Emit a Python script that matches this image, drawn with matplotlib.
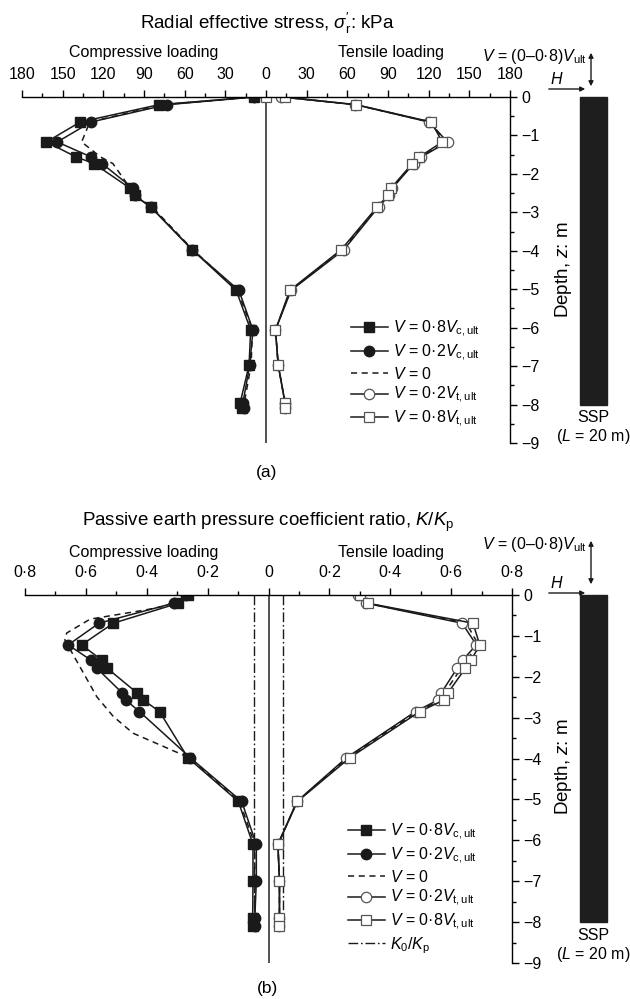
"""
Radial effective stress and K/Kp profiles along a pile under
compressive and tensile vertical loading.
"""
import numpy as np
import matplotlib.pyplot as plt
import matplotlib.transforms as mtransforms
from matplotlib.lines import Line2D
from matplotlib.patches import Rectangle, FancyArrowPatch

plt.rcParams['font.family'] = ['Liberation Sans', 'DejaVu Sans']
plt.rcParams['mathtext.fontset'] = 'custom'
plt.rcParams['mathtext.rm'] = 'Liberation Sans'
plt.rcParams['mathtext.it'] = 'Liberation Sans:italic'
plt.rcParams['mathtext.bf'] = 'Liberation Sans:bold'

# ---- (a) radial effective stress, kPa ----
depth_a = [0, -0.2, -0.65, -1.17, -1.56, -1.73, -2.38, -2.56, -2.86,
           -3.97, -5.03, -6.06, -6.97, -7.95, -8.1]
comp_08_a = [9, 79, 137, 162, 140, 127, 100, 97, 85, 54.5, 22, 11.3, 12.5, 19, 18]
comp_02_a = [9, 73, 129, 154, 129, 121, 98, 97, 85, 54.5, 20, 9.6, 12, 17, 16]
comp_00_a = [8, 76, 130, 136, 122, 113, 100, 96, 84, 54, 21, 10, 11, 16, 15]
tens_00_a = [12, 66, 121, 133, 114, 108.5, 92.5, 90.5, 82.5, 56.5, 18, 7, 9, 14, 14]
tens_02_a = [11, 66, 120, 134, 114.5, 109, 93, 91, 83, 57.5, 18.5, 7, 9, 14, 14]
depth_t08_a = [0] + depth_a
tens_08_a = [0, 14, 66.6, 122, 130, 113, 108, 92, 90, 82, 55.5, 17.5, 7, 9, 14, 14]

# ---- (b) K/Kp ----
depth_b = [0, -0.2, -0.69, -1.22, -1.59, -1.79, -2.40, -2.57, -2.85,
           -3.98, -5.05, -6.1, -7.0, -7.9, -8.1]
comp_08_b = [0.263, 0.296, 0.51, 0.614, 0.548, 0.53, 0.431, 0.411, 0.358,
             0.265, 0.099, 0.051, 0.051, 0.052, 0.052]
comp_02_b = [0.27, 0.312, 0.557, 0.658, 0.584, 0.564, 0.48, 0.469, 0.424,
             0.257, 0.088, 0.04, 0.04, 0.045, 0.045]
depth_v0_b = [0, -0.28, -0.36, -0.59, -0.93, -1.1, -1.67, -2.49, -2.97,
              -3.38, -3.98, -5.05, -6.1, -7.0, -8.1]
comp_00_b = [0.25, 0.346, 0.40, 0.586, 0.663, 0.669, 0.626, 0.564, 0.51,
             0.445, 0.26, 0.095, 0.045, 0.045, 0.045]
tens_00_b = [0.296, 0.323, 0.65, 0.69, 0.65, 0.633, 0.578, 0.566, 0.49,
             0.26, 0.094, 0.031, 0.036, 0.036, 0.036]
tens_02_b = [0.293, 0.32, 0.636, 0.683, 0.638, 0.62, 0.567, 0.556, 0.483,
             0.256, 0.093, 0.031, 0.036, 0.036, 0.036]
tens_08_b = [0.30, 0.326, 0.672, 0.694, 0.666, 0.647, 0.589, 0.576, 0.497,
             0.267, 0.095, 0.031, 0.036, 0.036, 0.036]
k0_kp = 0.049
k0_depth = [0, -8.25]

pile_tip = -8
labels = ['$V$ = 0·8$V_\\mathrm{c,ult}$', '$V$ = 0·2$V_\\mathrm{c,ult}$',
          '$V$ = 0', '$V$ = 0·2$V_\\mathrm{t,ult}$', '$V$ = 0·8$V_\\mathrm{t,ult}$']

W, H = 630, 999
LC = '#1a1a1a'
OPEN_EC = '#555555'
FS = 11.5


def fx(x):
    return x / W


def fy(y):
    return 1 - y / H


def style(kind):
    base = dict(color=LC, lw=1.1)
    if kind == 'c08':
        base.update(marker='s', ms=7, mfc=LC, mec=LC)
    elif kind == 'c02':
        base.update(marker='o', ms=7.5, mfc=LC, mec=LC)
    elif kind == 'v0':
        base.update(ls=(0, (4, 3)))
    elif kind == 't02':
        base.update(marker='o', ms=7.5, mfc='white', mec=OPEN_EC, mew=0.9)
    elif kind == 't08':
        base.update(marker='s', ms=7, mfc='white', mec=OPEN_EC, mew=0.9)
    return base


def setup(ax, xmax, step, fmt):
    ax.set_xlim(-xmax, xmax)
    ax.set_ylim(-9, 0)
    ax.patch.set_alpha(0)
    for s in ['left', 'bottom']:
        ax.spines[s].set_visible(False)
    for s in ['top', 'right']:
        ax.spines[s].set_linewidth(1.0)
    ax.xaxis.tick_top()
    ax.yaxis.tick_right()
    xt = np.linspace(-xmax, xmax, int(round(2 * xmax / step)) + 1)
    ax.set_xticks(xt)
    ax.set_xticklabels([fmt(abs(v)) for v in xt])
    ax.set_xticks(np.linspace(-xmax, xmax, int(round(4 * xmax / step)) + 1), minor=True)
    yt = np.arange(-9, 1)
    ax.set_yticks(yt)
    ax.set_yticklabels(['0' if v == 0 else '\u2212%d' % -v for v in yt])
    ax.set_yticks(np.arange(-9, 0.1, 0.5), minor=True)
    ax.tick_params(which='both', direction='out', width=1.0, labelsize=FS)
    ax.tick_params(which='major', length=5)
    ax.tick_params(which='minor', length=3)
    ax.tick_params(axis='x', pad=6)
    ax.tick_params(axis='y', pad=3)
    ax.axvline(0, color='#444444', lw=1.3, zorder=1)


def side_labels(top):
    fig.text(fx(144), fy(top), 'Compressive loading', ha='center', va='center', fontsize=FS)
    fig.text(fx(391), fy(top), 'Tensile loading', ha='center', va='center', fontsize=FS)


def loading_sketch(ax, y_v, y_h, y0):
    fig.text(fx(587), fy(y_v), '$V$ = (0\u20130·8)$V_\\mathrm{ult}$',
             ha='right', va='center', fontsize=FS)
    fig.add_artist(FancyArrowPatch((fx(591), fy(y_v - 7)), (fx(591), fy(y0 - 8)),
                                   transform=fig.transFigure, arrowstyle='<|-|>',
                                   mutation_scale=7, lw=1.0, color=LC))
    fig.text(fx(557), fy(y_h - 10), '$H$', ha='center', va='center', fontsize=FS)
    fig.add_artist(FancyArrowPatch((fx(546), fy(y_h)), (fx(588), fy(y_h)),
                                   transform=fig.transFigure, arrowstyle='-|>',
                                   mutation_scale=7, lw=1.0, color=LC))
    blend = mtransforms.blended_transform_factory(fig.transFigure, ax.transData)
    ax.add_patch(Rectangle((fx(580), pile_tip), fx(607) - fx(580), -pile_tip,
                           transform=blend, color='#1e1e1e', clip_on=False))


fig = plt.figure(figsize=(W / 100, H / 100), dpi=100)

# ---------------- panel (a) ----------------
ax = fig.add_axes([fx(22), fy(443), fx(510) - fx(22), fy(97) - fy(443)])
setup(ax, 180, 30, lambda v: '%d' % v)
ax.plot(-np.array(comp_00_a), depth_a, **style('v0'))
ax.plot(-np.array(comp_08_a), depth_a, **style('c08'))
ax.plot(-np.array(comp_02_a), depth_a, **style('c02'))
ax.plot(tens_00_a, depth_a, **style('v0'))
ax.plot(tens_02_a, depth_a, **style('t02'))
ax.plot(tens_08_a, depth_t08_a, **style('t08'))

handles = [Line2D([], [], **style(k)) for k in ['c08', 'c02', 'v0', 't02', 't08']]
ax.legend(handles, labels, loc='upper left', bbox_to_anchor=(fx(343), fy(311)),
          bbox_transform=fig.transFigure, frameon=False, fontsize=FS, borderpad=0,
          handlelength=2.3, handletextpad=0.35, labelspacing=0.2)

fig.text(fx(267), fy(23), "Radial effective stress, $\\sigma_\\mathrm{r}^{\\prime}$: kPa",
         ha='center', va='center', fontsize=13.5)
side_labels(53)
loading_sketch(ax, 57, 89, 97)
fig.text(fx(563), fy(270), 'Depth, $z$: m', rotation=90, ha='center', va='center', fontsize=13.5)
fig.text(fx(593), fy(417), 'SSP', ha='center', va='center', fontsize=FS)
fig.text(fx(593), fy(437), '($L$ = 20 m)', ha='center', va='center', fontsize=FS)
fig.text(fx(267), fy(472), '(a)', ha='center', va='center', fontsize=12.5)

# ---------------- panel (b) ----------------
ax = fig.add_axes([fx(25), fy(963), fx(512) - fx(25), fy(595) - fy(963)])
setup(ax, 0.8, 0.2, lambda v: '0' if v < 1e-9 else ('%.1f' % v).replace('.', '·'))
ax.plot([-k0_kp, -k0_kp], k0_depth, color=LC, lw=1.0, ls=(0, (7, 2, 1.2, 2)))
ax.plot([k0_kp, k0_kp], k0_depth, color=LC, lw=1.0, ls=(0, (7, 2, 1.2, 2)))
ax.plot(-np.array(comp_00_b), depth_v0_b, **style('v0'))
ax.plot(-np.array(comp_08_b), depth_b, **style('c08'))
ax.plot(-np.array(comp_02_b), depth_b, **style('c02'))
ax.plot(tens_00_b, depth_b, **style('v0'))
ax.plot(tens_02_b, depth_b, **style('t02'))
ax.plot(tens_08_b, depth_b, **style('t08'))

handles = [Line2D([], [], **style(k)) for k in ['c08', 'c02', 'v0', 't02', 't08']]
handles.append(Line2D([], [], color=LC, lw=1.0, ls=(0, (7, 2, 1.2, 2))))
ax.legend(handles, labels + ['$K_0$/$K_\\mathrm{p}$'], loc='upper left',
          bbox_to_anchor=(fx(340), fy(814)), bbox_transform=fig.transFigure,
          frameon=False, fontsize=FS, borderpad=0, handlelength=2.3,
          handletextpad=0.35, labelspacing=0.2)

fig.text(fx(268), fy(522), 'Passive earth pressure coefficient ratio, $K$/$K_\\mathrm{p}$',
         ha='center', va='center', fontsize=13.5)
side_labels(552)
loading_sketch(ax, 545, 593, 595)
fig.text(fx(563), fy(767), 'Depth, $z$: m', rotation=90, ha='center', va='center', fontsize=13.5)
fig.text(fx(593), fy(935), 'SSP', ha='center', va='center', fontsize=FS)
fig.text(fx(593), fy(955), '($L$ = 20 m)', ha='center', va='center', fontsize=FS)
fig.text(fx(267), fy(988), '(b)', ha='center', va='center', fontsize=12.5)

fig.savefig('out.png', dpi=100)
